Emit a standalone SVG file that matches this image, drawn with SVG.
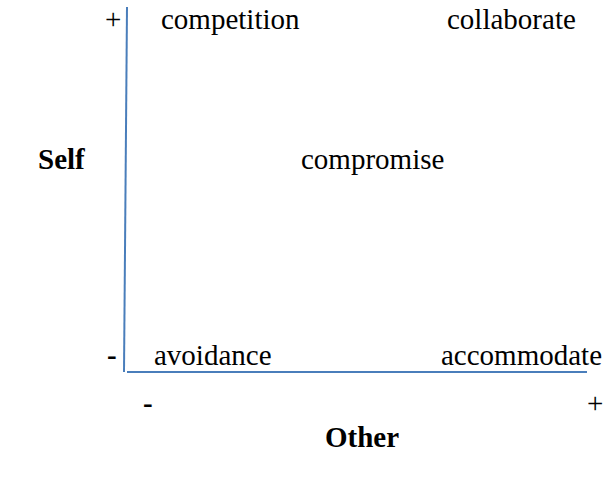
<svg xmlns="http://www.w3.org/2000/svg" width="605" height="479" viewBox="0 0 605 479">
<style>
text{font-family:"Liberation Serif","Times New Roman",serif;font-size:29px;fill:#000}
.b{font-weight:bold}
.ax{stroke:#4a7ebb;stroke-width:2;fill:none}
</style>
<rect width="605" height="479" fill="#fff"/>
<g id="axes">
<line class="ax" x1="127" y1="7" x2="124" y2="372"/>
<line class="ax" x1="127" y1="372" x2="587" y2="372"/>
</g>
<g id="self-axis">
<text x="105" y="29">+</text>
<text class="b" x="107" y="365">-</text>
<text class="b" x="38" y="169">Self</text>
</g>
<g id="other-axis">
<text class="b" x="143" y="413">-</text>
<text x="587" y="413">+</text>
<text class="b" x="325" y="447">Other</text>
</g>
<g id="competition"><text x="161" y="29">competition</text></g>
<g id="collaborate"><text x="447" y="29">collaborate</text></g>
<g id="compromise"><text x="301" y="169">compromise</text></g>
<g id="avoidance"><text x="154" y="365">avoidance</text></g>
<g id="accommodate"><text x="441" y="365">accommodate</text></g>
</svg>
